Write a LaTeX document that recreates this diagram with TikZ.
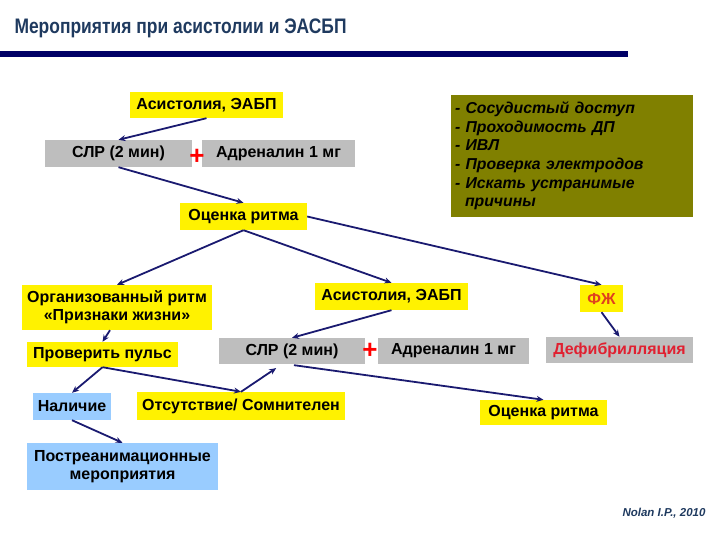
\documentclass[tikz,border=0pt]{standalone}
\usepackage{fontspec}
\setmainfont{Liberation Sans}
\usetikzlibrary{arrows.meta}
\definecolor{rulenavy}{HTML}{000066}
\definecolor{titleblue}{HTML}{1F3A5F}
\definecolor{boxgrey}{HTML}{BEBEBE}
\definecolor{boxblue}{HTML}{99CCFF}
\definecolor{boxolive}{HTML}{808000}
\definecolor{vfred}{HTML}{E0401E}
\definecolor{defred}{HTML}{E02030}
\definecolor{arrownavy}{HTML}{1A1A70}
\newcommand\bodyfont{\fontsize{16}{18}\selectfont\bfseries}

\begin{document}
\begin{tikzpicture}[x=1pt, y=-1pt,
                ybox/.style={fill=yellow, inner sep=0pt, font=\bodyfont, align=center},
                gbox/.style={fill=boxgrey, inner sep=0pt, font=\bodyfont, align=center},
                bbox/.style={fill=boxblue, inner sep=0pt, font=\bodyfont, align=center},
                plus/.style={text=red, inner sep=0pt, font=\fontsize{26}{26}\selectfont\bfseries},
                arrow/.style={draw=arrownavy, line width=1.8pt, -{Stealth[length=7pt, width=6pt]}}
            ]
            \useasboundingbox (0,0) rectangle (720,540);

            % Titel
            \node[anchor=base west, text=titleblue, font=\fontsize{21}{23}\selectfont\bfseries] (title) at (11,34) {\scalebox{0.83}[1]{Мероприятия при асистолии и ЭАСБП}};
            \fill[rulenavy] (0,51) rectangle (628,57);

            % Knoten
            \node[ybox, minimum width=153, minimum height=26] (asys1) at (206.5,105) {Асистолия, ЭАБП};
            \node[gbox, minimum width=147, minimum height=27] (slr1) at (118.5,153.5) {СЛР (2 мин)};
            \node[gbox, minimum width=153, minimum height=27] (adr1) at (278.5,153.5) {Адреналин 1 мг};
            \node[plus] (plus1) at (197,157) {+};
            \node[ybox, minimum width=127, minimum height=27] (rhythm1) at (243.5,216.5) {Оценка ритма};
            \node[fill=boxolive, inner sep=0pt, minimum width=242, minimum height=122, text width=234, align=left,
                  font=\fontsize{15.8}{18.6}\selectfont\bfseries\itshape] (tasks) at (572,156)
                  {- Сосудистый доступ\\- Проходимость ДП\\- ИВЛ\\- Проверка электродов\\- Искать устранимые\\\hspace*{10pt}причины};

            \node[ybox, minimum width=190, minimum height=45] (organ) at (117,307.5) {Организованный ритм\\«Признаки жизни»};
            \node[ybox, minimum width=153, minimum height=27] (asys2) at (391.5,296.5) {Асистолия, ЭАБП};
            \node[ybox, text=vfred, minimum width=43, minimum height=27] (vf) at (601.5,298.5) {ФЖ};
            \node[gbox, minimum width=146, minimum height=26] (slr2) at (292,351) {СЛР (2 мин)};
            \node[gbox, minimum width=151, minimum height=26] (adr2) at (453.5,351) {Адреналин 1 мг};
            \node[plus] (plus2) at (370,351) {+};
            \node[gbox, text=defred, minimum width=147, minimum height=26] (defib) at (619.5,350) {Дефибрилляция};
            \node[ybox, minimum width=151, minimum height=25] (pulse) at (102.5,354.5) {Проверить пульс};
            \node[bbox, minimum width=78, minimum height=27] (present) at (72,406.5) {Наличие};
            \node[ybox, minimum width=208, minimum height=28] (absent) at (241,406) {Отсутствие/ Сомнителен};
            \node[ybox, minimum width=127, minimum height=25] (rhythm2) at (543.5,412.5) {Оценка ритма};
            \node[bbox, minimum width=191, minimum height=47] (post) at (122.5,466.5) {Постреанимационные\\мероприятия};
            \node[text=titleblue, font=\fontsize{11.5}{13}\selectfont\bfseries\itshape] (source) at (664,513) {Nolan I.P., 2010};

            % Kanten zwischen Knoten
            \draw[arrow] (asys1.south) -- (slr1.north);
            \draw[arrow] (slr1.south) -- (rhythm1.north);
            \draw[arrow] (rhythm1.east) -- (vf.north);
            \draw[arrow] (rhythm1.south) -- (organ.north);
            \draw[arrow] (rhythm1.south) -- (asys2.north);
            \draw[arrow] (vf.south) -- (defib.north);
            \draw[arrow] (asys2.south) -- (slr2.north);
            \draw[arrow] ([xshift=-7pt]organ.south) -- (pulse.north);
            \draw[arrow] (pulse.south) -- (present.north);
            \draw[arrow] (pulse.south) -- (absent.north);
            \draw[arrow, shorten >=7pt] (absent.north) -- ([xshift=-10pt]slr2.south);
            \draw[arrow, shorten <=7pt] ([xshift=-5pt]slr2.south) -- (rhythm2.north);
            \draw[arrow] (present.south) -- (post.north);

        \end{tikzpicture}
\end{document}
